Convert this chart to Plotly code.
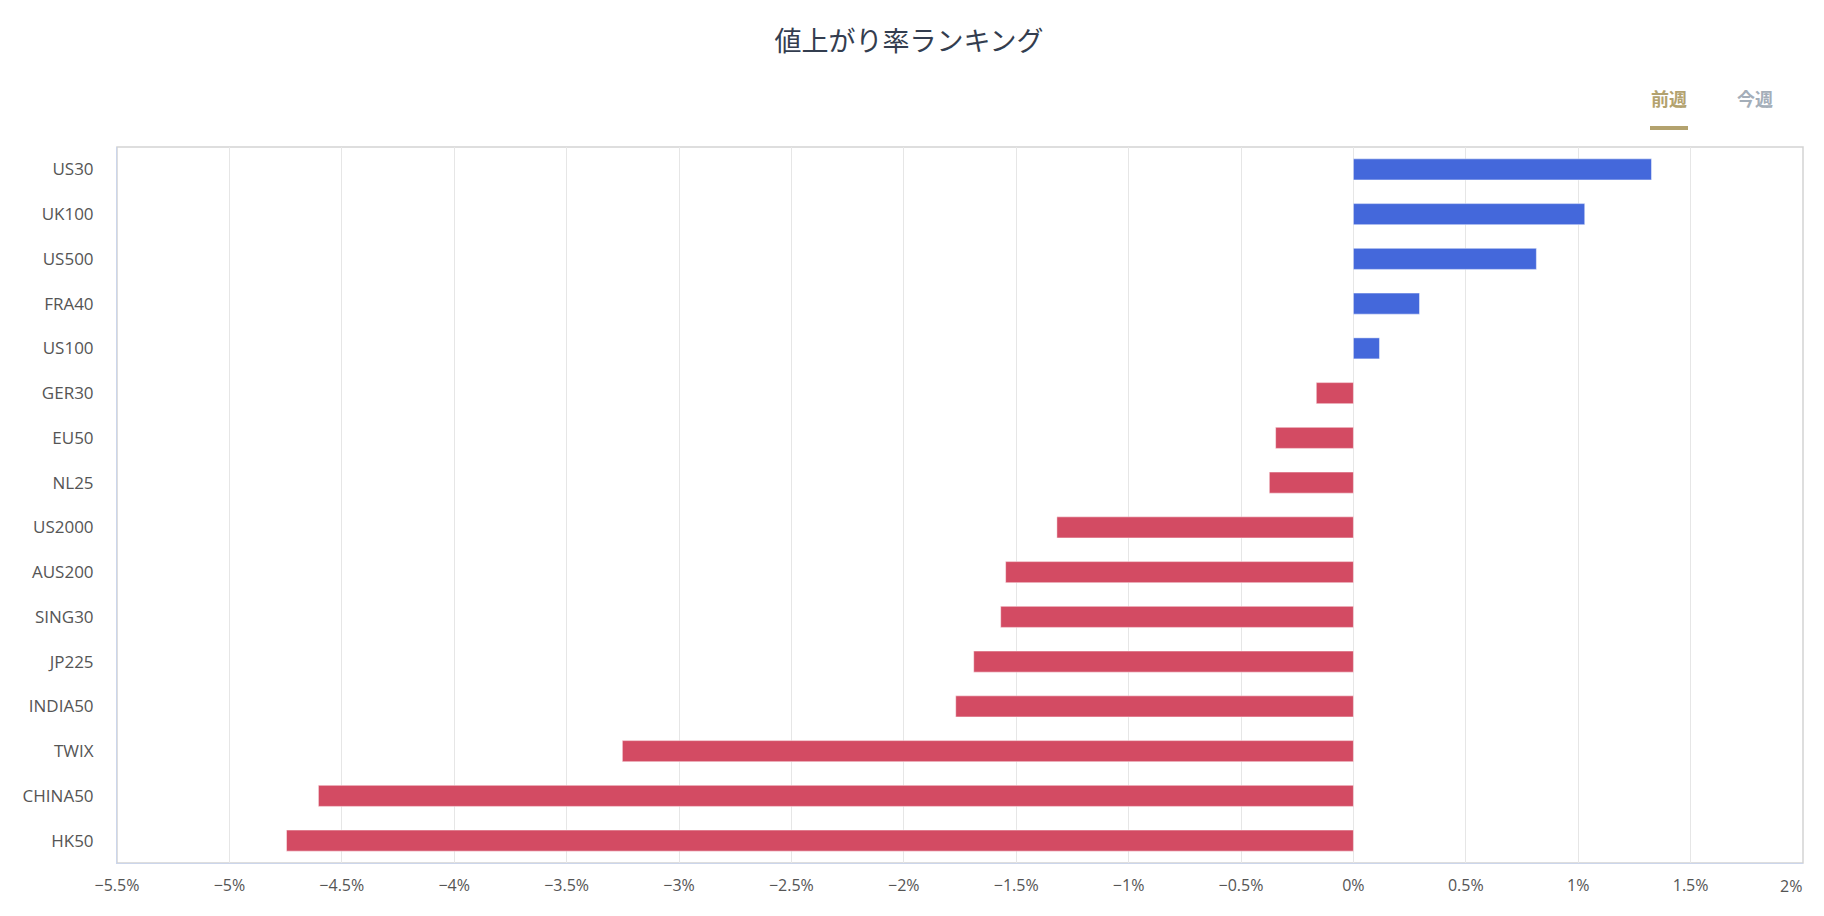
import plotly.graph_objects as go

categories = ["US30", "UK100", "US500", "FRA40", "US100", "GER30", "EU50", "NL25",
              "US2000", "AUS200", "SING30", "JP225", "INDIA50", "TWIX", "CHINA50", "HK50"]
values = [1.326, 1.029, 0.814, 0.294, 0.116, -0.165, -0.346, -0.374,
          -1.319, -1.547, -1.569, -1.689, -1.769, -3.252, -4.604, -4.746]
tick_values = [-5.5, -5, -4.5, -4, -3.5, -3, -2.5, -2, -1.5, -1, -0.5, 0, 0.5, 1, 1.5, 2]
tick_labels = ["−5.5%", "−5%", "−4.5%", "−4%", "−3.5%", "−3%", "−2.5%", "−2%",
               "−1.5%", "−1%", "−0.5%", "0%", "0.5%", "1%", "1.5%", "2%"]
title_text = "値上がり率ランキング"
tab_labels = ["前週", "今週"]

POS_COLOR = "#4468db"
NEG_COLOR = "#d34b63"
bar_colors = [POS_COLOR if v >= 0 else NEG_COLOR for v in values]

W, H = 1808, 900
L, T = 109, 139
PW, PH = 1686, 716

# the last label is drawn right-aligned to the plot edge (kept inside the chart)
shown_tick_labels = tick_labels[:-1] + [""]

fig = go.Figure()
fig.add_trace(go.Bar(
    x=values,
    y=categories,
    orientation="h",
    width=0.47,
    marker=dict(color=bar_colors, line=dict(color="rgba(255,255,255,0.45)", width=1)),
    hovertemplate="%{y}: %{x:.2f}%<extra></extra>",
))

font_main = "Open Sans, Noto Sans CJK JP, sans-serif"
tick_font = dict(family=font_main, size=16, color="#555555")


def px_x(x):
    return (x - L) / PW


def px_y(y):
    return (T + PH - y) / PH


fig.update_layout(
    width=W,
    height=H,
    margin=dict(l=L, r=W - L - PW, t=T, b=H - T - PH, autoexpand=False),
    paper_bgcolor="white",
    plot_bgcolor="white",
    showlegend=False,
    font=dict(family=font_main, size=17, color="#555555"),
    title=dict(
        text=title_text,
        x=901 / W, xref="container", xanchor="center",
        y=1 - 34 / H, yref="container", yanchor="middle",
        font=dict(family="Noto Sans CJK JP, sans-serif", size=27, color="#333d4f"),
    ),
    xaxis=dict(
        range=[-5.5, 2],
        tickvals=tick_values,
        ticktext=shown_tick_labels,
        showgrid=True,
        gridcolor="#e6e6e6",
        gridwidth=1,
        zeroline=False,
        showline=True,
        linecolor="#ccd6eb",
        linewidth=1,
        ticks="",
        ticklabelstandoff=8,
        automargin=False,
        tickfont=tick_font,
        fixedrange=True,
    ),
    yaxis=dict(
        range=[15.5, -0.5],
        type="category",
        showgrid=False,
        zeroline=False,
        showline=True,
        linecolor="#ccd6eb",
        linewidth=1,
        ticks="",
        ticklabelstandoff=19,
        automargin=False,
        tickfont=dict(family=font_main, size=17, color="#555555"),
        fixedrange=True,
    ),
    shapes=[
        dict(type="rect", xref="paper", yref="paper", x0=0, x1=1, y0=0, y1=1,
             line=dict(color="#d3d3d3", width=1.5), layer="below"),
        dict(type="line", xref="paper", yref="paper",
             x0=px_x(1642), x1=px_x(1680),
             y0=px_y(120), y1=px_y(120),
             line=dict(color="#b3a26e", width=4)),
    ],
    annotations=[
        dict(text=tick_labels[-1], xref="x", yref="paper",
             x=tick_values[-1], y=px_y(878), xshift=1,
             xanchor="right", yanchor="middle", showarrow=False,
             font=tick_font),
        dict(text="<b>%s</b>" % tab_labels[0], xref="paper", yref="paper",
             x=px_x(1660.5), y=px_y(90),
             xanchor="center", yanchor="middle", showarrow=False,
             font=dict(family="Noto Sans CJK JP, sans-serif", size=18, color="#b3a26e")),
        dict(text="<b>%s</b>" % tab_labels[1], xref="paper", yref="paper",
             x=px_x(1747), y=px_y(90),
             xanchor="center", yanchor="middle", showarrow=False,
             font=dict(family="Noto Sans CJK JP, sans-serif", size=18, color="#a4aeb9")),
    ],
)

fig.write_html("out.html")
